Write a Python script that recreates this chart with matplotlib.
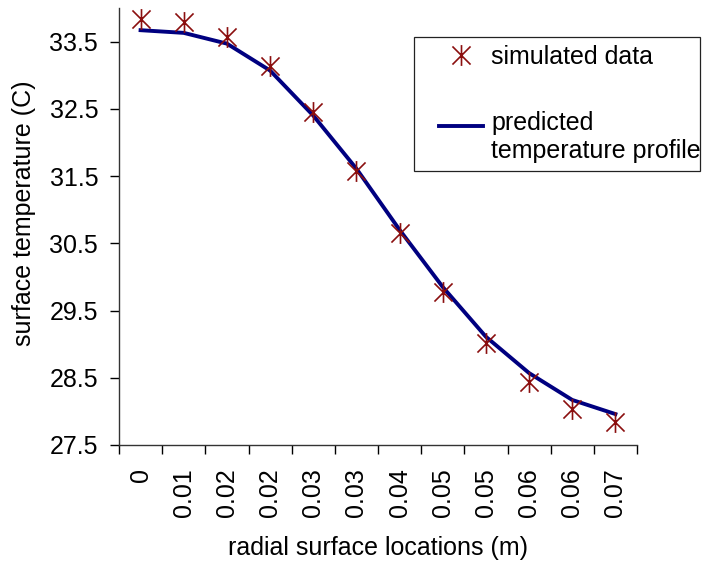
import matplotlib
matplotlib.use("Agg")
import numpy as np
import matplotlib.pyplot as plt
from matplotlib.path import Path
from matplotlib.patches import Rectangle
from matplotlib.legend_handler import HandlerLine2D

# category labels along the x axis (radial surface locations, m)
locations = ["0", "0.01", "0.02", "0.02", "0.03", "0.03", "0.04", "0.05", "0.05", "0.06", "0.06", "0.07"]
# simulated surface temperatures (C)
simulated = [33.84, 33.79, 33.57, 33.14, 32.45, 31.58, 30.65, 29.77, 29.02, 28.43, 28.04, 27.84]
# predicted temperature profile (C)
predicted = [33.67, 33.63, 33.47, 33.07, 32.40, 31.61, 30.70, 29.85, 29.11, 28.57, 28.17, 27.96]
yticks = [27.5, 28.5, 29.5, 30.5, 31.5, 32.5, 33.5]

plt.rcParams["font.family"] = ["Liberation Sans", "DejaVu Sans"]
FS = 18
W, H = 710, 564


class RaisedLine(HandlerLine2D):
    """Line handle drawn level with the first row of a two-line label."""
    def __init__(self, dy, **kw):
        super().__init__(**kw)
        self.dy = dy

    def create_artists(self, legend, orig_handle, xdescent, ydescent, width, height, fontsize, trans):
        arts = super().create_artists(legend, orig_handle, xdescent, ydescent, width, height, fontsize, trans)
        for a in arts:
            a.set_ydata(np.asarray(a.get_ydata()) + self.dy)
        return arts


# Excel-style star marker: an x with a vertical stroke
star = Path([(-1, -1), (1, 1), (-1, 1), (1, -1), (0, -1.15), (0, 1.15)],
            [Path.MOVETO, Path.LINETO, Path.MOVETO, Path.LINETO, Path.MOVETO, Path.LINETO])

fig = plt.figure(figsize=(W / 100, H / 100), dpi=100)
ax = fig.add_axes([119 / W, 1 - 445 / H, 518 / W, 437 / H])

x = [i + 0.5 for i in range(len(locations))]
sim_line, = ax.plot(x, simulated, linestyle="none", marker=star, markersize=15, mew=1.2,
                    color="#8b0f0f", label="simulated data", zorder=3)
pred_line, = ax.plot(x, predicted, color="#000080", lw=2.8,
                     label="predicted\ntemperature profile", zorder=2)

ax.set_xlim(0, len(locations))
ax.set_ylim(27.5, 34.0)
ax.set_yticks(yticks)
ax.set_yticklabels([f"{v:.1f}" for v in yticks], fontsize=FS)
ax.set_xticks(range(len(locations) + 1))
ax.set_xticklabels([])
ax.set_xticks(x, minor=True)
ax.set_xticklabels(locations, minor=True, rotation=90, fontsize=FS, va="top")
ax.tick_params(axis="x", which="minor", length=0, pad=16.5)
ax.tick_params(axis="x", which="major", length=6.5, direction="out", width=1)
ax.tick_params(axis="y", length=6.5, direction="out", width=1, pad=8.5)

for s in ["top", "right"]:
    ax.spines[s].set_visible(False)
for s in ["left", "bottom"]:
    ax.spines[s].set_color("#333333")
    ax.spines[s].set_linewidth(1.0)

ax.set_ylabel("surface temperature (C)", fontsize=FS)
ax.yaxis.set_label_coords(-0.16, 0.53)
ax.set_xlabel("radial surface locations (m)", fontsize=FS, labelpad=14)

# legend frame drawn separately so the padding matches the original
frame = Rectangle((414 / W, 1 - 171 / H), 286 / W, 134 / H, transform=fig.transFigure,
                  facecolor="white", edgecolor="#222222", lw=0.9, zorder=4)
fig.add_artist(frame)
leg = fig.legend(handles=[sim_line, pred_line], loc="upper left",
                 bbox_to_anchor=(439 / W, 1 - 45 / H), fontsize=FS, frameon=False,
                 labelspacing=1.7, handlelength=1.75, handletextpad=0.35,
                 borderpad=0, borderaxespad=0,
                 handler_map={pred_line: RaisedLine(8.6)})
leg.set_zorder(5)

fig.savefig("out.png", dpi=100)
